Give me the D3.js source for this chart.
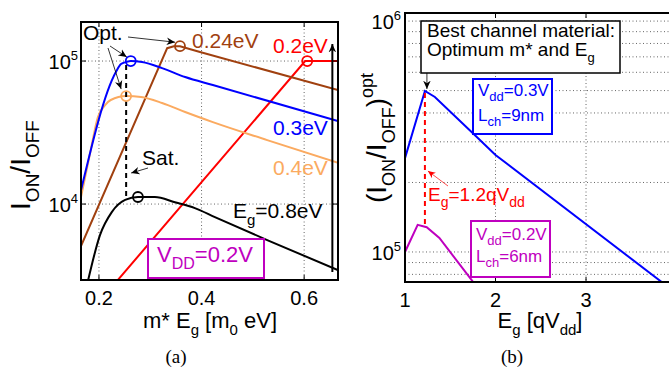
<!DOCTYPE html>
<html>
<head>
<meta charset="utf-8">
<script src="https://cdn.jsdelivr.net/npm/d3@7"></script>
<style>
  body { margin: 0; background: #fff; }
  text { font-family: "Liberation Sans", Arial, sans-serif; }
  text.serif { font-family: "Liberation Serif", "Times New Roman", serif; }
</style>
</head>
<body>
<svg id="chart" width="669" height="367"></svg>
<script>
// ---- panel (a): ION/IOFF vs m*Eg, VDD = 0.2 V ----
const mEgTicks = [0.2, 0.4, 0.6];
const ratioTicksA = [1e4, 1e5];

const eg03X = [0.165, 0.233, 0.243, 0.253, 0.262, 0.284, 0.323, 0.368, 0.422, 0.666];
const eg03Y = [12500, 83800, 95300, 98400, 100000, 98400, 89300, 77300, 68000, 38000];

const eg04X = [0.165, 0.184, 0.198, 0.212, 0.223, 0.253, 0.282, 0.323, 0.368, 0.422, 0.528, 0.666];
const eg04Y = [11200, 23900, 40600, 49200, 53400, 56900, 56000, 50900, 44000, 37400, 28000, 19400];

const eg024X = [0.165, 0.333, 0.346, 0.358, 0.397, 0.666];
const eg024Y = [5080, 123000, 127000, 127000, 115600, 62700];

const eg02X = [0.237, 0.602, 0.666];
const eg02Y = [2950, 100000, 100000];

const eg08X = [0.179, 0.202, 0.225, 0.251, 0.276, 0.309, 0.348, 0.387, 0.426, 0.528, 0.666];
const eg08Y = [2945, 6070, 8790, 10700, 11200, 11200, 10300, 9370, 8110, 5600, 3450];

// optimum points (circles)
const optX = [0.262, 0.253, 0.358, 0.606, 0.276];
const optY = [100000, 56900, 127000, 100000, 11200];
const optColor = ['#0000ff', '#fbaa60', '#a0400f', '#ff0000', '#000000'];

// saturation marker and Eg trend arrow
const satX = 0.253, satTop = 98400, satBottom = 10700;
const trendX = 0.655, trendFrom = 3350, trendTo = 131500;

// ---- panel (b): best ION/IOFF vs Eg ----
const egTicks = [1, 2, 3];
const ratioTicksB = [1e5, 1e6];
const ratioMinorB = [8e4, 9e4, 2e5, 3e5, 4e5, 5e5, 6e5, 7e5, 8e5, 9e5];

const vdd03X = [1.0, 1.22, 1.33, 1.75, 2.0, 3.85];
const vdd03Y = [255000, 498000, 469000, 327000, 263000, 73400];

const vdd02X = [1.0, 1.14, 1.24, 1.38, 1.76];
const vdd02Y = [100000, 131000, 128000, 115000, 73500];

const bestEg = 1.22, bestTop = 498000, bestBottom = 128000;

const svg = d3.select('#chart');
const defs = svg.append('defs');

function marker(id, color, size) {
  defs.append('marker')
    .attr('id', id)
    .attr('viewBox', '-10 -5 12 10')
    .attr('refX', 0).attr('refY', 0)
    .attr('markerWidth', size).attr('markerHeight', size)
    .attr('markerUnits', 'userSpaceOnUse')
    .attr('orient', 'auto')
    .append('path')
    .attr('d', 'M0,0 L-10,-4.5 L-7,0 L-10,4.5 Z')
    .attr('fill', color);
}
marker('arrK', '#000', 10);
marker('arrR', '#ff0000', 9);

// rich text with sub/superscripts
function rich(sel, parts, size, small) {
  let cur = 0;
  parts.forEach(([t, k]) => {
    const off = k === 'sub' ? size * 0.32 : k === 'sup' ? -size * 0.45 : 0;
    sel.append('tspan')
      .attr('dy', off - cur)
      .attr('font-size', k === 'n' ? size : small)
      .text(t);
    cur = off;
  });
  return sel;
}

function label(g, x, y, parts, size, small, color, anchor) {
  const t = g.append('text')
    .attr('x', x).attr('y', y)
    .attr('fill', color || '#000')
    .attr('text-anchor', anchor || 'start');
  return rich(t, parts, size, small);
}

// =============== panel (a) ===============
const xA = d3.scaleLinear().domain([0.165, 0.666]).range([81, 338]);
const yA = d3.scaleLog().domain([10 ** 3.469, 10 ** 5.273]).range([280, 22]);

const gA = svg.append('g');
defs.append('clipPath').attr('id', 'clipA')
  .append('rect').attr('x', 81).attr('y', 22).attr('width', 257).attr('height', 258);

// grid
gA.selectAll('line.gx').data(mEgTicks).join('line')
  .attr('x1', d => xA(d)).attr('x2', d => xA(d))
  .attr('y1', 22).attr('y2', 280)
  .attr('stroke', '#666').attr('stroke-dasharray', '1,2.5');
gA.selectAll('line.gy').data(ratioTicksA).join('line')
  .attr('x1', 81).attr('x2', 338)
  .attr('y1', d => yA(d)).attr('y2', d => yA(d))
  .attr('stroke', '#666').attr('stroke-dasharray', '1,2.5');

const plotA = gA.append('g').attr('clip-path', 'url(#clipA)');

const lineA = (xs, ys, curve) => d3.line()
  .x(i => xA(xs[i])).y(i => yA(ys[i]))
  .curve(curve)(d3.range(xs.length));

const seriesA = [
  [eg02X, eg02Y, '#ff0000', d3.curveLinear],
  [eg024X, eg024Y, '#a0400f', d3.curveLinear],
  [eg04X, eg04Y, '#fbaa60', d3.curveMonotoneX],
  [eg03X, eg03Y, '#0000ff', d3.curveMonotoneX],
  [eg08X, eg08Y, '#000000', d3.curveMonotoneX]
];
seriesA.forEach(([xs, ys, c, cv]) => {
  plotA.append('path')
    .attr('d', lineA(xs, ys, cv))
    .attr('fill', 'none').attr('stroke', c).attr('stroke-width', 2);
});

// saturation dashed line
plotA.append('line')
  .attr('x1', xA(satX)).attr('x2', xA(satX))
  .attr('y1', yA(satTop) + 3).attr('y2', yA(satBottom))
  .attr('stroke', '#000').attr('stroke-width', 2).attr('stroke-dasharray', '5,4');

plotA.selectAll('circle').data(optX).join('circle')
  .attr('cx', d => xA(d)).attr('cy', (d, i) => yA(optY[i]))
  .attr('r', 5).attr('fill', 'none')
  .attr('stroke', (d, i) => optColor[i]).attr('stroke-width', 1.8);

// trend arrow
gA.append('line')
  .attr('x1', xA(trendX)).attr('x2', xA(trendX))
  .attr('y1', yA(trendFrom)).attr('y2', yA(trendTo))
  .attr('stroke', '#000').attr('stroke-width', 2)
  .attr('marker-end', 'url(#arrK)');

// frame + ticks
gA.append('rect').attr('x', 81).attr('y', 22).attr('width', 257).attr('height', 258)
  .attr('fill', 'none').attr('stroke', '#000').attr('stroke-width', 2);
mEgTicks.forEach(t => {
  gA.append('line').attr('x1', xA(t)).attr('x2', xA(t)).attr('y1', 280).attr('y2', 275).attr('stroke', '#000');
  gA.append('line').attr('x1', xA(t)).attr('x2', xA(t)).attr('y1', 22).attr('y2', 27).attr('stroke', '#000');
  gA.append('text').attr('x', xA(t)).attr('y', 305).attr('text-anchor', 'middle')
    .attr('font-size', 20).text(d3.format('.1f')(t));
});
ratioTicksA.forEach(t => {
  gA.append('line').attr('x1', 81).attr('x2', 86).attr('y1', yA(t)).attr('y2', yA(t)).attr('stroke', '#000');
  gA.append('line').attr('x1', 338).attr('x2', 333).attr('y1', yA(t)).attr('y2', yA(t)).attr('stroke', '#000');
  label(gA, 78, yA(t) + 8, [['10', 'n'], [String(Math.round(Math.log10(t))), 'sup']], 20, 13, '#000', 'end');
});

// axis titles
label(gA, 210, 328, [['m* E', 'n'], ['g', 'sub'], [' [m', 'n'], ['0', 'sub'], [' eV]', 'n']], 22, 15, '#000', 'middle');
label(gA.append('g').attr('transform', 'translate(30,165) rotate(-90)'), 0, 0,
  [['I', 'n'], ['ON', 'sub'], ['/I', 'n'], ['OFF', 'sub']], 28, 19, '#000', 'middle');
gA.append('text').attr('class', 'serif').attr('x', 176).attr('y', 363)
  .attr('text-anchor', 'middle').attr('font-size', 19).text('(a)');

// curve labels
label(gA, 192, 48, [['0.24eV', 'n']], 21, 15, '#a0400f');
label(gA, 273, 53, [['0.2eV', 'n']], 21, 15, '#ff0000');
label(gA, 273, 135, [['0.3eV', 'n']], 21, 15, '#0000ff');
label(gA, 273, 175, [['0.4eV', 'n']], 21, 15, '#fbaa60');
label(gA, 233, 218, [['E', 'n'], ['g', 'sub'], ['=0.8eV', 'n']], 21, 15, '#000');

// Opt. / Sat. annotations
label(gA, 83, 40, [['Opt.', 'n']], 21, 15, '#000');
label(gA, 142, 165, [['Sat.', 'n']], 21, 15, '#000');
const annA = [
  [128, 37, xA(optX[2]) - 5, yA(optY[2]) - 4],
  [110, 46, xA(optX[0]) - 4, yA(optY[0]) - 4],
  [108, 48, xA(optX[1]) - 5, yA(optY[1]) - 7],
  [148, 168, xA(satX) + 5, 173]
];
annA.forEach(([x1, y1, x2, y2]) => {
  gA.append('line').attr('x1', x1).attr('y1', y1).attr('x2', x2).attr('y2', y2)
    .attr('stroke', '#000').attr('stroke-width', 0.8).attr('marker-end', 'url(#arrK)');
});

// VDD box
gA.append('rect').attr('x', 148).attr('y', 239).attr('width', 116).attr('height', 39)
  .attr('fill', '#fff').attr('stroke', '#bf00bf').attr('stroke-width', 2);
label(gA, 157, 262, [['V', 'n'], ['DD', 'sub'], ['=0.2V', 'n']], 22, 16, '#bf00bf');

// =============== panel (b) ===============
const xB = d3.scaleLinear().domain([1, 3.95]).range([405, 672]);
const yB = d3.scaleLog().domain([10 ** 4.870, 10 ** 6.035]).range([282, 13]);

const gB = svg.append('g');
defs.append('clipPath').attr('id', 'clipB')
  .append('rect').attr('x', 405).attr('y', 13).attr('width', 267).attr('height', 269);

gB.selectAll('line.gx').data(egTicks.slice(1)).join('line')
  .attr('x1', d => xB(d)).attr('x2', d => xB(d))
  .attr('y1', 13).attr('y2', 282)
  .attr('stroke', '#666').attr('stroke-dasharray', '1,2.5');
gB.selectAll('line.gy').data(ratioTicksB.concat(ratioMinorB)).join('line')
  .attr('x1', 405).attr('x2', 669)
  .attr('y1', d => yB(d)).attr('y2', d => yB(d))
  .attr('stroke', '#666').attr('stroke-dasharray', '1,2.5');

const plotB = gB.append('g').attr('clip-path', 'url(#clipB)');
const lineB = (xs, ys) => d3.line()
  .x(i => xB(xs[i])).y(i => yB(ys[i]))(d3.range(xs.length));

plotB.append('path').attr('d', lineB(vdd03X, vdd03Y))
  .attr('fill', 'none').attr('stroke', '#0000ff').attr('stroke-width', 2);
plotB.append('path').attr('d', lineB(vdd02X, vdd02Y))
  .attr('fill', 'none').attr('stroke', '#bf00bf').attr('stroke-width', 2);
plotB.append('line')
  .attr('x1', xB(bestEg)).attr('x2', xB(bestEg))
  .attr('y1', yB(bestTop) + 2).attr('y2', yB(bestBottom))
  .attr('stroke', '#ff0000').attr('stroke-width', 2).attr('stroke-dasharray', '5,4');

// frame (right side falls outside the picture)
gB.append('path').attr('d', 'M669,13 H405 V282 H669')
  .attr('fill', 'none').attr('stroke', '#000').attr('stroke-width', 2);
egTicks.forEach(t => {
  gB.append('line').attr('x1', xB(t)).attr('x2', xB(t)).attr('y1', 282).attr('y2', 277).attr('stroke', '#000');
  gB.append('line').attr('x1', xB(t)).attr('x2', xB(t)).attr('y1', 13).attr('y2', 18).attr('stroke', '#000');
  gB.append('text').attr('x', xB(t)).attr('y', 307).attr('text-anchor', 'middle')
    .attr('font-size', 20).text(t);
});
ratioTicksB.forEach(t => {
  label(gB, 401, yB(t) + 8, [['10', 'n'], [String(Math.round(Math.log10(t))), 'sup']], 20, 13, '#000', 'end');
});

label(gB, 540, 328, [['E', 'n'], ['g', 'sub'], [' [qV', 'n'], ['dd', 'sub'], [']', 'n']], 22, 15, '#000', 'middle');
label(gB.append('g').attr('transform', 'translate(386,138) rotate(-90)'), 0, 0,
  [['(I', 'n'], ['ON', 'sub'], ['/I', 'n'], ['OFF', 'sub'], [')', 'n'], ['opt', 'sup']], 28, 18, '#000', 'middle');
gB.append('text').attr('class', 'serif').attr('x', 512).attr('y', 363)
  .attr('text-anchor', 'middle').attr('font-size', 19).text('(b)');

// "best channel" box and arrow
gB.append('rect').attr('x', 421).attr('y', 21).attr('width', 199).attr('height', 52)
  .attr('fill', '#fff').attr('stroke', '#000').attr('stroke-width', 1.5);
label(gB, 427, 37, [['Best channel material:', 'n']], 19, 13, '#000');
label(gB, 427, 56, [['Optimum m* and E', 'n'], ['g', 'sub']], 19, 13, '#000');
gB.append('line')
  .attr('x1', xB(bestEg) + 2).attr('x2', xB(bestEg) + 2)
  .attr('y1', 73).attr('y2', yB(bestTop) - 2)
  .attr('stroke', '#000').attr('stroke-width', 0.8).attr('marker-end', 'url(#arrK)');

// case boxes
gB.append('rect').attr('x', 473).attr('y', 79).attr('width', 79).attr('height', 55)
  .attr('fill', '#fff').attr('stroke', '#0000ff').attr('stroke-width', 2);
label(gB, 478, 96, [['V', 'n'], ['dd', 'sub'], ['=0.3V', 'n']], 17, 13, '#0000ff');
label(gB, 478, 121, [['L', 'n'], ['ch', 'sub'], ['=9nm', 'n']], 17, 13, '#0000ff');

gB.append('rect').attr('x', 471).attr('y', 221).attr('width', 79).attr('height', 56)
  .attr('fill', '#fff').attr('stroke', '#bf00bf').attr('stroke-width', 2);
label(gB, 476, 240, [['V', 'n'], ['dd', 'sub'], ['=0.2V', 'n']], 17, 13, '#bf00bf');
label(gB, 476, 262, [['L', 'n'], ['ch', 'sub'], ['=6nm', 'n']], 17, 13, '#bf00bf');

// Eg = 1.2 qVdd note
label(gB, 428, 201, [['E', 'n'], ['g', 'sub'], ['=1.2qV', 'n'], ['dd', 'sub']], 19, 14, '#ff0000');
gB.append('line').attr('x1', 448).attr('y1', 186)
  .attr('x2', xB(bestEg) + 3).attr('y2', 171)
  .attr('stroke', '#ff0000').attr('stroke-width', 0.7).attr('marker-end', 'url(#arrR)');
</script>
</body>
</html>
